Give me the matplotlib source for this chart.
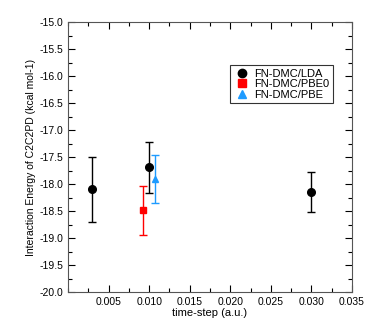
import matplotlib
matplotlib.use('Agg')
import matplotlib.pyplot as plt
from matplotlib.ticker import MultipleLocator
from matplotlib.lines import Line2D

plt.rcParams['font.family'] = ['Liberation Sans', 'DejaVu Sans']

# FN-DMC/LDA
lda_x = [0.003, 0.010, 0.030]
lda_y = [-18.10, -17.69, -18.14]
lda_err = [0.60, 0.47, 0.37]
# FN-DMC/PBE0
pbe0_x = [0.0092]
pbe0_y = [-18.49]
pbe0_err = [0.45]
# FN-DMC/PBE
pbe_x = [0.0107]
pbe_y = [-17.91]
pbe_err = [0.44]

fig = plt.figure(figsize=(3.74, 3.29), dpi=100)
ax = fig.add_axes([68/374, 1-292/329, (352-68)/374, (292-22)/329])

series = [
    (lda_x, lda_y, lda_err, 'o', 'black', 5.5, 'FN-DMC/LDA'),
    (pbe0_x, pbe0_y, pbe0_err, 's', '#ff0000', 5, 'FN-DMC/PBE0'),
    (pbe_x, pbe_y, pbe_err, '^', '#1e9bff', 5, 'FN-DMC/PBE'),
]
handles = []
for x, y, e, m, c, ms, lab in series:
    ax.errorbar(x, y, yerr=e, fmt=m, color=c, ms=ms,
                capsize=3, elinewidth=1, capthick=1)
    handles.append(Line2D([], [], ls='none', marker=m, color=c, ms=ms + 0.5, label=lab))

ax.set_xlim(0, 0.035)
ax.set_ylim(-20, -15)
ax.xaxis.set_minor_locator(MultipleLocator(0.0025))
ax.yaxis.set_minor_locator(MultipleLocator(0.25))
ax.set_xticks([0.005, 0.010, 0.015, 0.020, 0.025, 0.030, 0.035])
ax.set_xticklabels(['0.005', '0.010', '0.015', '0.020', '0.025', '0.030', '0.035'])
ax.set_yticks([-20 + 0.5 * i for i in range(11)])
ax.set_yticklabels(['%.1f' % v for v in ax.get_yticks()])
ax.tick_params(which='both', direction='in', top=True, right=True, labelsize=7.5, colors='black')
ax.tick_params(which='major', length=5, width=0.8)
ax.tick_params(which='minor', length=3, width=0.8)
for s in ax.spines.values():
    s.set_color('#555555')
    s.set_linewidth(0.8)

ax.set_xlabel('time-step (a.u.)', fontsize=8, labelpad=1)
ax.set_ylabel('Interaction Energy of C2C2PD (kcal mol-1)', fontsize=7.5, labelpad=2)

leg = ax.legend(handles=handles, loc='upper left', bbox_to_anchor=(0.57, 0.84), fontsize=8,
                frameon=True, fancybox=False, borderpad=0.3, handletextpad=0.4,
                labelspacing=0.05, handlelength=1.5, borderaxespad=0)
leg.get_frame().set_edgecolor('black')
leg.get_frame().set_linewidth(0.8)

fig.savefig('out.png', dpi=100)
